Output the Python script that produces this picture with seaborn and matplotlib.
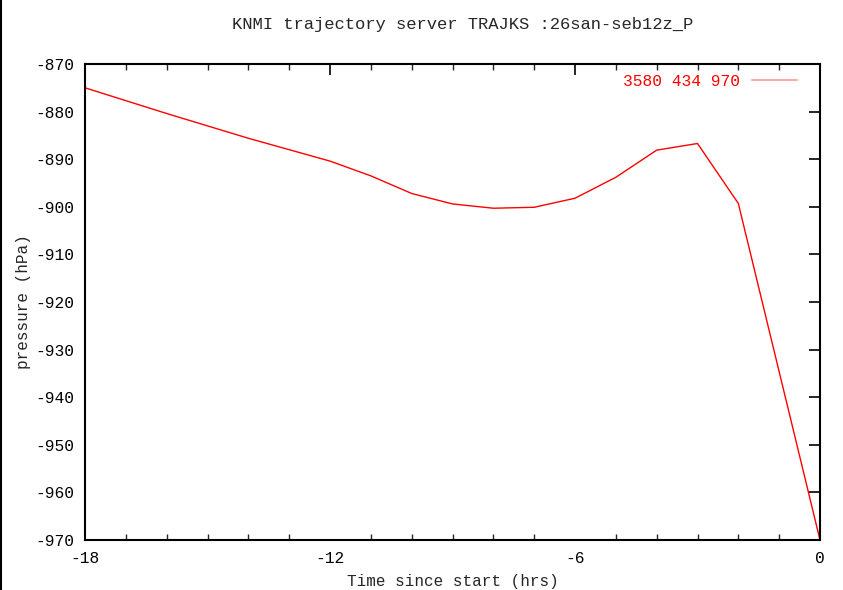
import matplotlib
matplotlib.use("Agg")
import matplotlib.pyplot as plt
import seaborn as sns
import pandas as pd
from matplotlib.lines import Line2D
from matplotlib.ticker import MultipleLocator, FuncFormatter

# Data
hours = [-18, -16, -14, -12, -11, -10, -9, -8, -7, -6, -5, -4, -3, -2, 0]
pressure = [-875.0, -880.4, -885.6, -890.4, -893.5, -897.2, -899.4, -900.3,
            -900.1, -898.2, -893.8, -888.1, -886.7, -899.3, -970.0]
series_label = "3580 434 970"
title = "KNMI trajectory server TRAJKS :26san-seb12z_P"
xlabel = "Time since start (hrs)"
ylabel = "pressure (hPa)"
xticks = [-18, -12, -6, 0]
yticks = [-870, -880, -890, -900, -910, -920, -930, -940, -950, -960, -970]

sns.set_style("white")
plt.rcParams['font.family'] = ['Liberation Mono', 'DejaVu Sans Mono']
plt.rcParams['axes.unicode_minus'] = False
fs = 11.7

df = pd.DataFrame({"t": hours, "p": pressure})

fig = plt.figure(figsize=(8.43, 5.90), dpi=100)
ax = fig.add_axes([85/843, 1-540/590, (820-85)/843, (540-64)/590])
sns.lineplot(data=df, x="t", y="p", ax=ax, color="#ff0000", linewidth=1.0,
             label=series_label)

ax.set_xlim(-18, 0)
ax.set_ylim(-970, -870)
ax.set_xticks(xticks)
ax.set_yticks(yticks)
ax.xaxis.set_minor_locator(MultipleLocator(1))
ax.xaxis.set_major_formatter(FuncFormatter(lambda v, p: f"{int(round(v))}"))
ax.yaxis.set_major_formatter(FuncFormatter(lambda v, p: f"{int(round(v))}"))
ax.tick_params(axis='both', which='major', direction='in', length=8, width=1.2,
               top=True, right=True, labelsize=fs, pad=8, colors='black')
ax.tick_params(axis='x', which='minor', direction='in', length=4, width=1.0,
               top=True, bottom=True)
for s in ax.spines.values():
    s.set_color('black')
    s.set_linewidth(1.5)

ax.set_xlabel(xlabel, fontsize=11.5, labelpad=6)
ax.set_ylabel(ylabel, fontsize=11.5, labelpad=3)
fig.text(463/843, 1-24/590, title, ha='center', va='center', fontsize=12.3)

leg = ax.legend(loc='upper right', bbox_to_anchor=((797-85)/735, (540-74)/476),
                frameon=False, markerfirst=False, borderaxespad=0, borderpad=0,
                fontsize=fs, handlelength=2.8, labelcolor='#ff0000',
                handletextpad=0.7)
for h in leg.get_lines():
    h.set_color('#ffaaaa')
    h.set_linewidth(1.5)

fig.add_artist(Line2D([0.6/843, 0.6/843], [0, 1], color='black', linewidth=1.5,
                      transform=fig.transFigure))

fig.savefig("out.png", dpi=100)
